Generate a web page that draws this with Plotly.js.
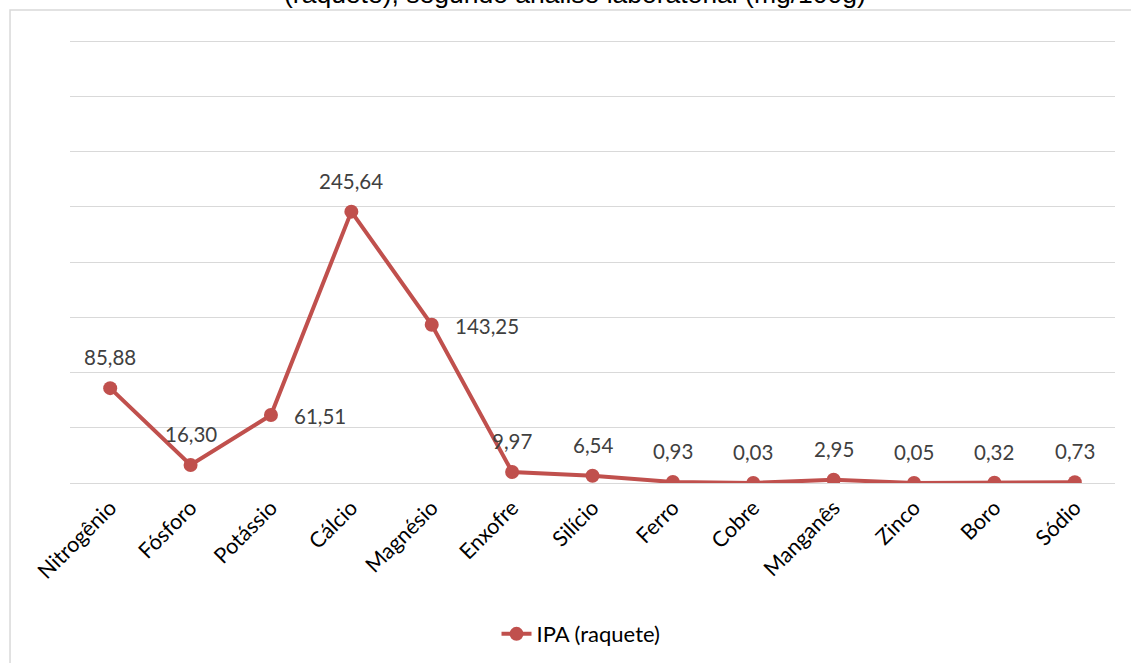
<!DOCTYPE html>
<html>
<head>
<meta charset="utf-8">
<script src="https://cdn.plot.ly/plotly-3.0.1.min.js"></script>
<style>
  html, body { margin: 0; padding: 0; background: #ffffff; }
  #chart { width: 1131px; height: 663px; }
</style>
</head>
<body>
<div id="chart"></div>
<script>
// Minerais (mg/100g) – IPA (raquete)
const categories = ["Nitrogênio", "Fósforo", "Potássio", "Cálcio", "Magnésio", "Enxofre",
                    "Silício", "Ferro", "Cobre", "Manganês", "Zinco", "Boro", "Sódio"];
const values = [85.88, 16.30, 61.51, 245.64, 143.25, 9.97, 6.54, 0.93, 0.03, 2.95, 0.05, 0.32, 0.73];
const seriesName = "IPA (raquete)";
const titleLine = "(raquete), segundo análise laboratorial (mg/100g)";
// labels placed to the right of the point instead of above
const rightLabels = ["Potássio", "Magnésio"];

const lineColor = "#C0504D";
const labelFont = "Lato, 'Open Sans', sans-serif";

const fmt = v => v.toFixed(2).replace(".", ",");

const trace = {
  type: "scatter",
  mode: "lines+markers",
  x: categories,
  y: values,
  name: seriesName,
  line: { color: lineColor, width: 4 },
  marker: { color: lineColor, size: 14 },
  hoverinfo: "x+y"
};

const annotations = categories.map((c, i) => {
  const right = rightLabels.includes(c);
  return {
    x: c, y: values[i], xref: "x", yref: "y",
    text: fmt(values[i]),
    showarrow: false,
    xanchor: right ? "left" : "center",
    yanchor: "middle",
    xshift: right ? 21 : 0,
    yshift: right ? -1 : 31,
    font: { family: labelFont, size: 20.5, color: "#404040" }
  };
});

annotations.push({
  xref: "paper", yref: "paper", x: 0.483, y: 1.0655,
  text: titleLine, showarrow: false,
  xanchor: "center", yanchor: "bottom",
  font: { family: "'Liberation Sans', Arial, sans-serif", size: 26.5, color: "#000000" }
});

const layout = {
  width: 1131, height: 663,
  margin: { l: 70, r: 16, t: 40, b: 180, autoexpand: false },
  paper_bgcolor: "#ffffff",
  plot_bgcolor: "#ffffff",
  showlegend: true,
  legend: {
    orientation: "h", x: 0.489, y: -0.341, xanchor: "center", yanchor: "middle",
    font: { family: labelFont, size: 22, color: "#000000" }
  },
  xaxis: {
    type: "category", automargin: false,
    range: [-0.5, categories.length - 0.5],
    showgrid: false, zeroline: false, showline: false,
    ticks: "", tickangle: -45, ticklabelstandoff: 7,
    tickfont: { family: labelFont, size: 21.5, color: "#000000" }
  },
  yaxis: {
    range: [0, 401], tick0: 0, dtick: 50, automargin: false,
    showgrid: true, gridcolor: "#d9d9d9", gridwidth: 1,
    zeroline: true, zerolinecolor: "#d9d9d9", zerolinewidth: 1,
    showticklabels: false, ticks: "", showline: false, fixedrange: true
  },
  shapes: [{
    type: "rect", xref: "paper", yref: "paper",
    x0: -0.0574, x1: 1.05, y0: -0.45, y1: 1.0677,
    line: { color: "#d9d9d9", width: 1.5 }, fillcolor: "rgba(0,0,0,0)", layer: "below"
  }],
  annotations: annotations
};

Plotly.newPlot("chart", [trace], layout, { displayModeBar: false, staticPlot: true });
</script>
</body>
</html>
